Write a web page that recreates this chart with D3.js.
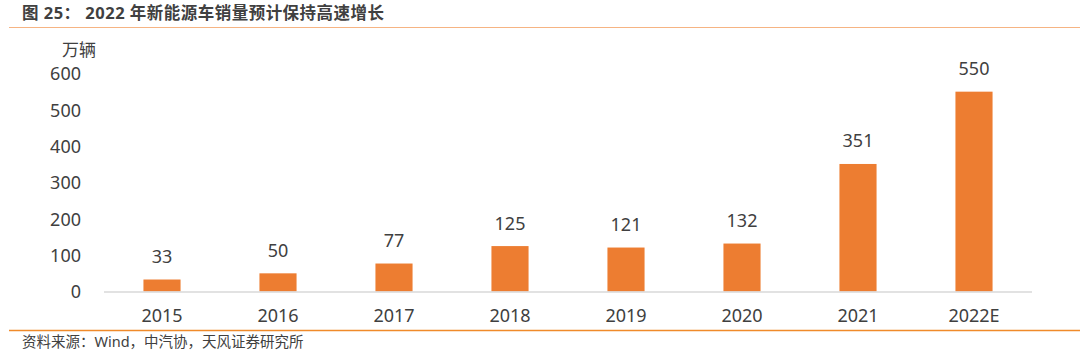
<!DOCTYPE html>
<html><head><meta charset="utf-8">
<script src="https://cdn.jsdelivr.net/npm/d3@7"></script>
<style>
html,body{margin:0;padding:0;background:#fff;}
svg{display:block;}
text{font-family:"Noto Sans","Noto Sans CJK SC",sans-serif;}
</style></head>
<body>
<svg id="c" width="1080" height="358"></svg>
<script>
const categories = ["2015","2016","2017","2018","2019","2020","2021","2022E"];
const sales = [33, 50, 77, 125, 121, 132, 351, 550];
const yTicks = [0, 100, 200, 300, 400, 500, 600];
const titleText = "图 25： 2022 年新能源车销量预计保持高速增长";
const unitText = "万辆";
const sourceText = "资料来源：Wind，中汽协，天风证券研究所";

const svg = d3.select("#c");
const x = d3.scaleBand().domain(categories).range([104, 1032]).paddingInner(0.68).paddingOuter(0.34);
const y = d3.scaleLinear().domain([0, 600]).range([291.5, 73.5]);

// title
svg.append("text").attr("x", 22).attr("y", 19).attr("font-size", 16.5).attr("font-weight", "bold")
  .attr("fill", "#404040").attr("font-family", "'Noto Sans CJK SC','Noto Sans',sans-serif")
  .attr("textLength", 362).attr("lengthAdjust", "spacing").text(titleText);
svg.append("line").attr("x1", 9).attr("x2", 1080).attr("y1", 27.5).attr("y2", 27.5)
  .attr("stroke", "#F6B483").attr("stroke-width", 1.2);

// unit
svg.append("text").attr("x", 62).attr("y", 56).attr("font-size", 17).attr("fill", "#404040")
  .attr("font-family", "'Noto Sans CJK SC',sans-serif").text(unitText);

// y axis labels
const yAxis = d3.axisLeft(y).tickValues(yTicks).tickSize(0).tickPadding(0);
const gy = svg.append("g").attr("transform", "translate(81,0)").call(yAxis);
gy.select(".domain").remove();
gy.selectAll("text").attr("font-size", 18).attr("fill", "#404040")
  .attr("font-family", "'Noto Sans',sans-serif").attr("dy", "0.36em");

// bars
svg.append("g").selectAll("rect").data(sales).join("rect")
  .attr("x", (d, i) => x(categories[i]))
  .attr("width", x.bandwidth())
  .attr("y", d => y(d))
  .attr("height", d => y(0) - y(d))
  .attr("fill", "#ED7D31");

// value labels
svg.append("g").selectAll("text").data(sales).join("text")
  .attr("x", (d, i) => x(categories[i]) + x.bandwidth() / 2)
  .attr("y", d => y(d) - 23)
  .attr("dy", "0.36em")
  .attr("text-anchor", "middle").attr("font-size", 18).attr("fill", "#404040")
  .text(d => d);

// x axis
const xAxis = d3.axisBottom(x).tickSize(0).tickPadding(0);
const gx = svg.append("g").attr("transform", `translate(0,${y(0)})`).call(xAxis);
gx.select(".domain").remove();
gx.selectAll("text").attr("font-size", 18).attr("fill", "#404040")
  .attr("font-family", "'Noto Sans',sans-serif").attr("dy", null).attr("y", 30.5);
svg.append("line").attr("x1", 104).attr("x2", 1032).attr("y1", y(0) + 0.5).attr("y2", y(0) + 0.5)
  .attr("stroke", "#D9D9D9").attr("stroke-width", 1.5);

// footer
svg.append("line").attr("x1", 9).attr("x2", 1080).attr("y1", 330.5).attr("y2", 330.5)
  .attr("stroke", "#F08A2A").attr("stroke-width", 1.5);
svg.append("text").attr("x", 22).attr("y", 347).attr("font-size", 14.5).attr("fill", "#404040")
  .attr("font-family", "'Noto Sans CJK SC',sans-serif").text(sourceText);
</script>
</body></html>
